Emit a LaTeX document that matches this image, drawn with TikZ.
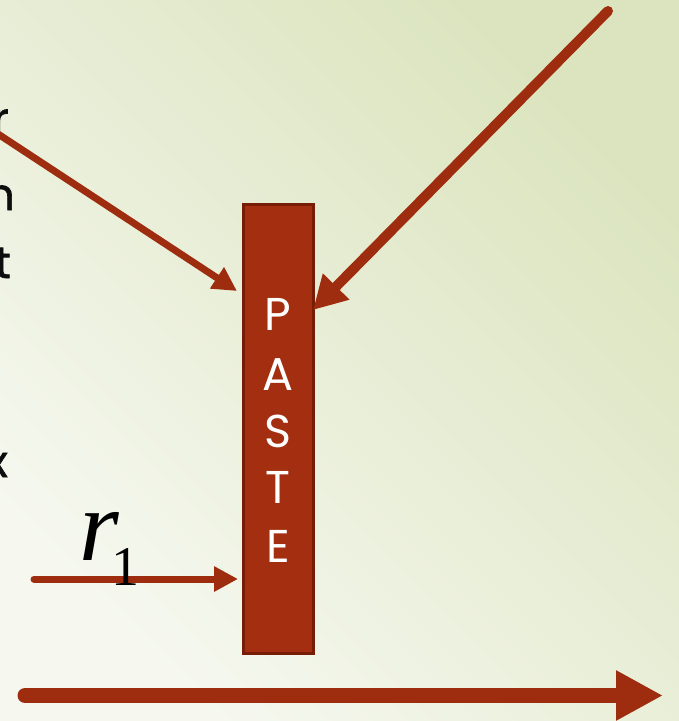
\documentclass[tikz,border=0pt]{standalone}
\usepackage{fontspec}
\setmainfont{Liberation Serif}
\newfontfamily\gothic{Poppins}
\newfontfamily\gothicheavy[FakeBold=1.6]{Poppins}
\usetikzlibrary{arrows.meta}
\definecolor{arrowred}{HTML}{9E2C0F}
\definecolor{boxfill}{HTML}{A32F10}
\definecolor{boxdraw}{HTML}{761C07}
\definecolor{bglight}{HTML}{F6F8F0}
\definecolor{bgdark}{HTML}{DBE4BE}
\begin{document}
\begin{tikzpicture}[x=1pt,y=-1pt,
  edgeglyph/.style={font=\gothicheavy\fontsize{44}{44}\selectfont, text=black!95, inner sep=0pt, anchor=base east},
  pasteletter/.style={font=\gothic\fontsize{46}{46}\selectfont, text=white, inner sep=0pt, anchor=base},
  pastebox/.style={draw=boxdraw, line width=3pt, fill=boxfill, minimum width=70pt, minimum height=449pt, inner sep=0pt},
  thinarrow/.style={draw=arrowred, line width=7pt, line cap=round, -{Triangle[length=24pt, width=24pt]}},
  thickarrow/.style={draw=arrowred, line width=10pt, line cap=round, -{Triangle[length=33pt, width=35pt]}},
  axisarrow/.style={draw=arrowred, line width=15pt, line cap=round, -{Triangle[length=47pt, width=47pt]}}
]
\useasboundingbox (0,0) rectangle (679,721);
\shade[top color=bgdark, bottom color=bglight, shading angle=-45] (0,0) rectangle (679,721);
\begin{scope}
\clip (0,0) rectangle (679,721);
% cut-off text at the left edge
\node[edgeglyph] (g1) at (9,134) {r};
\node[edgeglyph] (g2) at (15,210) {n};
\node[edgeglyph] (g3) at (11,278) {t};
\node[edgeglyph] (g4) at (8,477) {x};
% paste box
\node[pastebox] (paste) at (278,428.5) {};
\node[pasteletter] (l1) at (278,330) {P};
\node[pasteletter] (l2) at (278,390) {A};
\node[pasteletter] (l3) at (278,447) {S};
\node[pasteletter] (l4) at (278,503) {T};
\node[pasteletter] (l5) at (278,562) {E};
% arrows
\coordinate (a1s) at (-5,132);
\coordinate (a1e) at (237,291);
\draw[thinarrow] (a1s) -- (a1e);
\coordinate (a2s) at (608,11);
\coordinate (a2e) at (313,310);
\draw[thickarrow] (a2s) -- (a2e);
\coordinate (r1s) at (34,579);
\coordinate (r1e) at (238,579);
\draw[thinarrow] (r1s) -- (r1e);
\coordinate (axs) at (25,695.5);
\coordinate (axe) at (663,695.5);
\draw[axisarrow] (axs) -- (axe);
% label r_1
\node[inner sep=0pt, anchor=base west, font=\fontsize{102}{102}\selectfont\itshape] (rlab) at (79,560) {r};
\node[inner sep=0pt, anchor=base west, font=\fontsize{56}{56}\selectfont] (rsub) at (111,585) {1};
\end{scope}
\end{tikzpicture}
\end{document}
